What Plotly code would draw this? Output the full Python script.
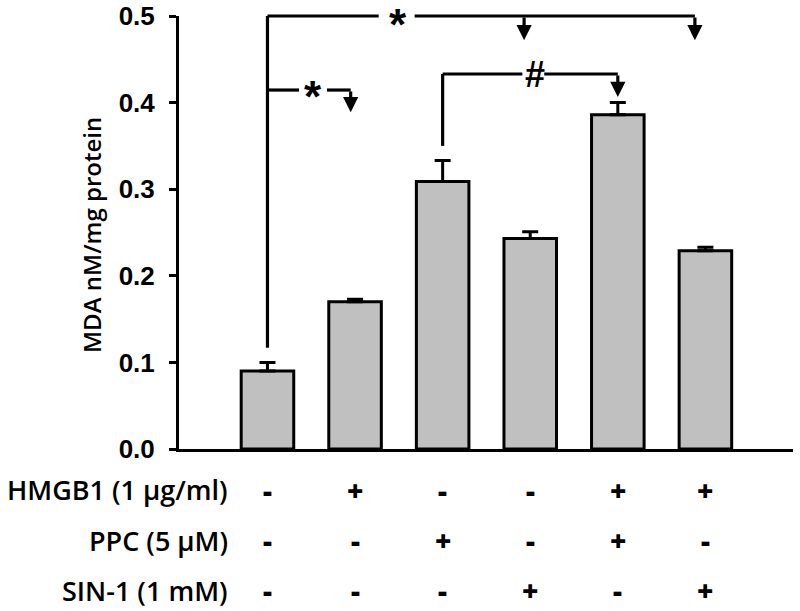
import plotly.graph_objects as go

# ---- data ----
groups = [0, 1, 2, 3, 4, 5]
mda = [0.090, 0.170, 0.309, 0.243, 0.386, 0.229]
sem = [0.010, 0.003, 0.024, 0.008, 0.014, 0.004]
hmgb1 = ["-", "+", "-", "-", "+", "+"]
ppc = ["-", "-", "+", "-", "+", "-"]
sin1 = ["-", "-", "-", "+", "-", "+"]
row_labels = ["HMGB1 (1 µg/ml)", "PPC (5 µM)", "SIN-1 (1 mM)"]
y_ticks = [0.0, 0.1, 0.2, 0.3, 0.4, 0.5]
y_title = "MDA nM/mg protein"

W, H = 800, 611
ML, MR, MT, MB = 179, 7, 16, 162
plot_w = W - ML - MR
plot_h = H - MT - MB
XR = [-1.01, 6.0]
YR = [0, 0.5]

def px(x):
    return (x - XR[0]) / (XR[1] - XR[0])

def py(y):
    return (y - YR[0]) / (YR[1] - YR[0])

fig = go.Figure()
fig.add_trace(go.Bar(
    x=groups, y=mda, width=0.6,
    marker=dict(color="#c0c0c0", line=dict(color="black", width=3)),
    error_y=dict(type="data", array=sem, arrayminus=[0] * len(sem), symmetric=False,
                 color="black", thickness=3, width=8),
    showlegend=False,
))

shapes = []
annotations = []
LW = 3.2

def hline(x0, x1, y):
    shapes.append(dict(type="line", xref="paper", yref="paper", x0=px(x0), x1=px(x1), y0=py(y), y1=py(y),
                       line=dict(color="black", width=LW), layer="above"))

def vline(x, y0, y1):
    shapes.append(dict(type="line", xref="paper", yref="paper", x0=px(x), x1=px(x), y0=py(y0), y1=py(y1),
                       line=dict(color="black", width=LW), layer="above"))

def arrow(x, y_from, y_to):
    annotations.append(dict(x=px(x), y=py(y_to), ax=0, ay=-(py(y_from) - py(y_to)) * plot_h,
                            xref="paper", yref="paper", axref="pixel", ayref="pixel",
                            showarrow=True, arrowhead=2, arrowsize=0.95, arrowwidth=LW,
                            arrowcolor="black", standoff=0, text=""))

def label(x, y, txt, size, yshift=0, **kw):
    annotations.append(dict(x=px(x), y=py(y), xref="paper", yref="paper", text=txt, showarrow=False,
                            font=dict(family="Liberation Sans, Arial", size=size, color="black", weight="bold"),
                            xanchor="center", yanchor="middle", yshift=yshift, **kw))

# top bracket: group 0 vs groups 3 and 5
yt = 0.5
vline(0, mda[0] + sem[0] + 0.017, yt)
hline(0, 1.27, yt)
hline(1.68, 4.88, yt)
arrow(2.93, yt, 0.472)
arrow(4.88, yt, 0.472)
label(1.49, yt, "*", 44, 3, height=26, valign="top", borderpad=1)

# second bracket: group 0 vs group 1
y2 = 0.4145
hline(0, 0.36, y2)
hline(0.68, 0.95, y2)
arrow(0.95, y2, 0.389)
label(0.52, y2, "*", 44, -6)

# hash bracket: group 2 vs group 4
y3 = 0.433
vline(2, mda[2] + sem[2] + 0.017, y3)
hline(2, 2.91, y3)
hline(3.16, 4.0, y3)
arrow(4.0, y3, 0.4065)
label(3.05, y3, "#", 36, 0)

# y title
annotations.append(dict(x=(91 - ML) / plot_w, y=(H - MB - 235) / plot_h, xref="paper", yref="paper",
                        text=y_title, textangle=-90, showarrow=False,
                        font=dict(family="Open Sans", size=24, color="black", weight=600),
                        xanchor="center", yanchor="middle"))

# treatment table
row_y_px = [490, 540, 590]
rows = [hmgb1, ppc, sin1]
for lab, ypx, vals in zip(row_labels, row_y_px, rows):
    yp = (H - MB - ypx) / plot_h
    annotations.append(dict(x=px(-0.43), y=yp, xref="paper", yref="paper", text=lab, showarrow=False,
                            font=dict(family="Open Sans", size=27, color="black", weight=600),
                            xanchor="right", yanchor="middle"))
    for g, v in zip(groups, vals):
        annotations.append(dict(x=px(g), y=yp, xref="paper", yref="paper", text=v, showarrow=False,
                                font=dict(family="Open Sans", size=28, color="black", weight=800),
                                xanchor="center", yanchor="middle"))

fig.update_layout(
    width=W, height=H,
    margin=dict(l=ML, r=MR, t=MT, b=MB, autoexpand=False),
    paper_bgcolor="white", plot_bgcolor="white",
    shapes=shapes, annotations=annotations,
    xaxis=dict(range=XR, showticklabels=False, ticks="", showgrid=False, zeroline=False,
               showline=True, linecolor="black", linewidth=3, automargin=False),
    yaxis=dict(range=YR, tickvals=y_ticks, ticktext=[f"{v:.1f}" for v in y_ticks],
               ticks="outside", ticklen=7, tickwidth=3, tickcolor="black", ticklabelstandoff=9,
               showgrid=False, zeroline=False, showline=True, linecolor="black", linewidth=3,
               automargin=False,
               tickfont=dict(family="Liberation Sans, Arial", size=26, color="black", weight="bold")),
)

fig.write_html("out.html", config={"displayModeBar": False},
               post_script="document.body.style.margin='0';document.body.style.overflow='hidden';")
